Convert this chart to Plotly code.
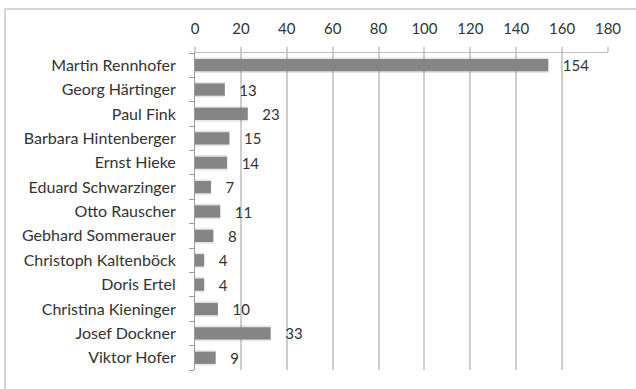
import plotly.graph_objects as go

names = ["Martin Rennhofer", "Georg Härtinger", "Paul Fink", "Barbara Hintenberger",
         "Ernst Hieke", "Eduard Schwarzinger", "Otto Rauscher", "Gebhard Sommerauer",
         "Christoph Kaltenböck", "Doris Ertel", "Christina Kieninger", "Josef Dockner",
         "Viktor Hofer"]
values = [154, 13, 23, 15, 14, 7, 11, 8, 4, 4, 10, 33, 9]
x_ticks = [0, 20, 40, 60, 80, 100, 120, 140, 160, 180]

fam = "Lato, Open Sans, sans-serif"
txt = "#333333"

fig = go.Figure()
# soft shadow
fig.add_trace(go.Bar(
    y=names, x=values, orientation="h",
    marker=dict(color="rgba(0,0,0,0.10)", line=dict(width=0)),
    width=0.64, hoverinfo="skip", showlegend=False,
))
fig.add_trace(go.Bar(
    y=names, x=values, orientation="h",
    marker=dict(color="#858585", line=dict(width=0)),
    width=0.5,
    text=[str(v) for v in values], texttemplate="   %{text}", textposition="outside",
    constraintext="none",
    textfont=dict(family=fam, size=15, color=txt),
    cliponaxis=False, showlegend=False,
))

fig.update_layout(
    width=636, height=389,
    margin=dict(l=195, r=28, t=53, b=19),
    paper_bgcolor="white", plot_bgcolor="white",
    barmode="overlay",
    font=dict(family=fam, size=15, color=txt),
    xaxis=dict(
        side="top", range=[0, 180], tickvals=x_ticks,
        showgrid=True, gridcolor="#cfcfcf", gridwidth=2,
        showline=True, linecolor="#bdbdbd", linewidth=1,
        ticks="outside", ticklen=5, tickwidth=2, tickcolor="#cfcfcf",
        ticklabelstandoff=7, zeroline=False,
        tickfont=dict(family=fam, size=15, color=txt),
    ),
    yaxis=dict(
        categoryorder="array", categoryarray=names[::-1],
        showline=True, linecolor="#9a9a9a", linewidth=1,
        ticks="outside", ticklen=5, tickcolor="#9a9a9a", tickson="boundaries",
        ticklabelstandoff=15,
        tickfont=dict(family=fam, size=16, color=txt),
        showgrid=False,
    ),
    shapes=[dict(type="rect", xref="paper", yref="paper",
                 x0=-0.46, x1=1.2, y0=-0.2, y1=1.139,
                 line=dict(color="#c8c8c8", width=1.5), fillcolor="rgba(0,0,0,0)",
                 layer="below")],
)

fig.write_html("out.html")
